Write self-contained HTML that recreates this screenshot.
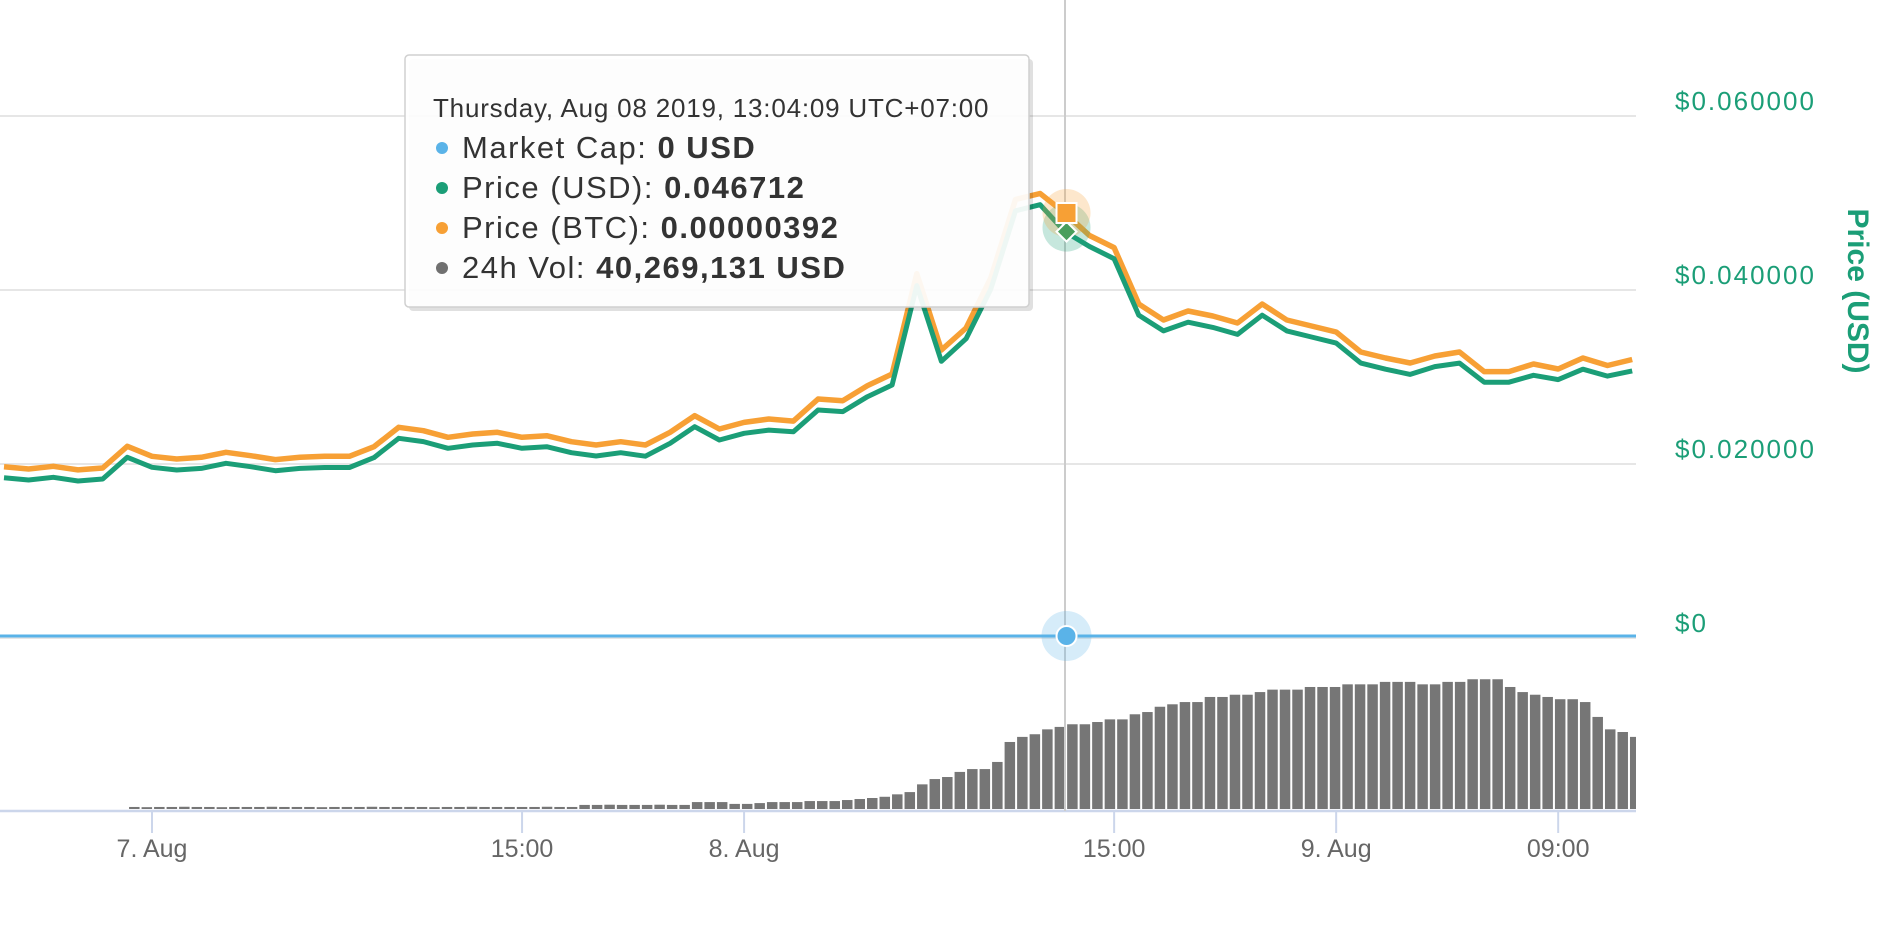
<!DOCTYPE html>
<html><head><meta charset="utf-8"><style>
html,body{margin:0;padding:0;background:#fff;width:1886px;height:926px;overflow:hidden}
svg{display:block}
text{font-family:"Liberation Sans",sans-serif}
</style></head><body>
<svg id="chart" width="1886" height="926" viewBox="0 0 1886 926" xmlns="http://www.w3.org/2000/svg">
<g id="grid"></g>
<g id="vol"></g>
<g id="axes"></g>
<g id="series"></g>
<line x1="1065" y1="0" x2="1065" y2="811" stroke="#cccccc" stroke-width="2"/>
<g id="markers"></g>
<g>
<rect x="409" y="59" width="624" height="252" rx="4" fill="rgba(0,0,0,0.12)"/>
<rect x="405" y="55" width="624" height="252" rx="4" fill="rgba(255,255,255,0.93)" stroke="#d0d0d0" stroke-width="1.5"/>
<text x="433" y="117" font-size="26" letter-spacing="0.8" fill="#333">Thursday, Aug 08 2019, 13:04:09 UTC+07:00</text>
<circle cx="442" cy="148" r="6" fill="#5ab3e8"/>
<text x="462" y="158" font-size="31" letter-spacing="1.5" fill="#333">Market Cap: <tspan font-weight="bold">0 USD</tspan></text>
<circle cx="442" cy="188" r="6" fill="#1b9e77"/>
<text x="462" y="198" font-size="31" letter-spacing="1.5" fill="#333">Price (USD): <tspan font-weight="bold">0.046712</tspan></text>
<circle cx="442" cy="228" r="6" fill="#f7a035"/>
<text x="462" y="238" font-size="31" letter-spacing="1.5" fill="#333">Price (BTC): <tspan font-weight="bold">0.00000392</tspan></text>
<circle cx="442" cy="268" r="6" fill="#707070"/>
<text x="462" y="278" font-size="31" letter-spacing="1.5" fill="#333">24h Vol: <tspan font-weight="bold">40,269,131 USD</tspan></text>
</g>
</svg>
<script>
// hours relative to 7 Aug 00:00, hourly points from -6 to 60
const priceUsd = [0.01843,0.01816,0.01847,0.01805,0.01828,0.02077,0.01962,0.01931,0.01950,0.02008,0.01969,0.01923,0.01950,0.01960,0.01960,0.02073,0.02295,0.02257,0.02180,0.02218,0.02238,0.02180,0.02199,0.02130,0.02092,0.02130,0.02090,0.02238,0.02429,0.02276,0.02353,0.02390,0.02370,0.02621,0.02602,0.02774,0.02908,0.04050,0.03180,0.03440,0.04010,0.04910,0.04980,0.04671,0.04500,0.04360,0.03710,0.03530,0.03630,0.03570,0.03490,0.03710,0.03530,0.03460,0.03390,0.03160,0.03090,0.03030,0.03120,0.03160,0.02940,0.02940,0.03020,0.02970,0.03090,0.03010,0.03070];
const priceBtcSats = [158.0,155.9,158.4,155.0,156.8,176.8,167.6,165.1,166.7,171.3,168.1,164.5,166.7,167.6,167.6,176.4,194.3,191.2,185.1,188.2,189.7,185.1,186.6,181.1,178.0,181.1,178.0,189.7,205.0,192.8,198.9,202.0,200.1,220.4,218.9,232.7,243.5,336.0,265.6,285.9,332.0,404.4,410.0,392.0,371.2,360.1,308.1,293.3,301.6,297.0,290.5,308.1,293.3,287.8,282.2,263.8,258.3,253.6,260.1,263.8,245.7,245.7,252.7,248.1,258.3,251.3,256.9];
const priceStartHour = -6;
// 24h volume in millions USD, ~30 min bars
const volumeM = [1.0,0.9,1.0,1.0,1.1,1.0,1.0,0.9,1.0,1.0,1.0,1.1,1.0,1.0,1.0,0.9,1.0,1.0,1.0,1.1,1.0,1.0,1.0,1.0,0.9,1.0,1.0,1.1,1.0,1.0,1.0,1.0,1.0,1.1,1.0,1.0,
2.0,2.0,2.1,2.0,2.0,2.0,2.1,2.0,2.0,3.4,3.4,3.4,2.5,2.5,2.9,3.4,3.4,3.4,3.9,3.9,3.9,4.4,4.9,5.4,
6.0,7.2,8.3,12.1,14.7,15.7,18.2,19.6,19.6,23.1,32.9,35.4,36.7,39.1,40.3,41.6,41.6,42.7,44.0,44.0,46.5,47.6,50.2,51.4,52.5,52.5,55.0,55.0,56.1,56.1,57.4,58.6,58.6,58.6,59.9,59.9,59.9,61.2,61.2,61.2,62.4,62.4,62.4,61.2,61.2,62.4,62.4,63.7,63.7,63.7,59.9,57.4,56.1,55.0,53.9,53.9,52.5,45.2,39.1,37.8,35.4];
const volStartHour = -0.93;
const volStepHour = 0.507;
const marketCap = [0,0];
const usdTicks = [0,0.02,0.04,0.06];
const usdTickLabels = ["$0","$0.020000","$0.040000","$0.060000"];
const xTickHours = [0,15,24,39,48,57];
const xTickLabels = ["7. Aug","15:00","8. Aug","15:00","9. Aug","09:00"];
const hoverHour = 37.07;
const hoverUsd = 0.046712;
const hoverBtcSats = 392;

const NS="http://www.w3.org/2000/svg";
const plotRight=1636, axisY=811;
function xH(h){return 152+h*24.67;}
function yUsd(v){return 638-v*8700;}
function yBtc(s){return 638-s*1.0842;}
function yVol(m){return 809-m*2.037;}
function mk(tag,attrs,parent){const e=document.createElementNS(NS,tag);for(const k in attrs)e.setAttribute(k,attrs[k]);parent.appendChild(e);return e;}

const grid=document.getElementById('grid');
usdTicks.forEach((t,i)=>{
  const y=yUsd(t);
  const l=mk('line',{x1:0,x2:plotRight,y1:y,y2:y,stroke:'#e6e6e6','stroke-width':2},grid);
  
  
  const tx=mk('text',{x:1675,y:y-6,'font-size':26,fill:'#1b9e77','letter-spacing':'2'},grid);
  
  
  tx.textContent=usdTickLabels[i];
});
const title=mk('text',{x:0,y:0,'font-size':30,'font-weight':'bold',fill:'#1b9e77','text-anchor':'middle',transform:'translate(1848,291) rotate(90)'},grid);


title.textContent='Price (USD)';

const vol=document.getElementById('vol');
volumeM.forEach((m,i)=>{
  const x=xH(volStartHour+i*volStepHour);
  const w=Math.min(10.5,plotRight-x);
  if(w<=0)return;
  const y=yVol(m);
  const r=mk('rect',{x:x,y:y,width:w,height:809-y,fill:'#767676'},vol);
  
  
});

const axes=document.getElementById('axes');
mk('line',{x1:0,x2:plotRight,y1:axisY,y2:axisY,stroke:'#ccd6eb','stroke-width':2.5},axes);
xTickHours.forEach((h,i)=>{
  const x=xH(h);
  mk('line',{x1:x,x2:x,y1:axisY,y2:833,stroke:'#ccd6eb','stroke-width':2},axes);
  const t=mk('text',{x:x,y:857,'font-size':25,fill:'#666','text-anchor':'middle'},axes);
  
  
  t.textContent=xTickLabels[i];
});

const series=document.getElementById('series');
const mc=mk('line',{x1:0,x2:plotRight,y1:yUsd(marketCap[0])-2,y2:yUsd(marketCap[1])-2,stroke:'#5ab3e8','stroke-width':3},series);


function path(vals,yf){return vals.map((v,i)=>(i?'L':'M')+xH(priceStartHour+i).toFixed(1)+' '+yf(v).toFixed(1)).join(' ');}
const pb=mk('path',{d:path(priceBtcSats,yBtc),fill:'none',stroke:'#f7a035','stroke-width':5.5,'stroke-linejoin':'round'},series);


const pu=mk('path',{d:path(priceUsd,yUsd),fill:'none',stroke:'#1b9e77','stroke-width':5,'stroke-linejoin':'round'},series);



const mkr=document.getElementById('markers');
const hx=xH(hoverHour);
mk('circle',{cx:hx,cy:yUsd(hoverUsd)-4,r:24,fill:'rgba(27,158,119,0.25)'},mkr);
mk('circle',{cx:hx,cy:yBtc(hoverBtcSats),r:24,fill:'rgba(247,160,53,0.25)'},mkr);
const yd=yUsd(hoverUsd);
const dm=mk('path',{d:`M${hx} ${yd-10} L${hx+10} ${yd} L${hx} ${yd+10} L${hx-10} ${yd} Z`,fill:'#4a9e5c',stroke:'#fff','stroke-width':2},mkr);


const yb=yBtc(hoverBtcSats);
const sq=mk('rect',{x:hx-10,y:yb-10,width:20,height:20,fill:'#f7a035',stroke:'#fff','stroke-width':2},mkr);


mk('circle',{cx:hx,cy:yUsd(marketCap[0])-2,r:25,fill:'rgba(90,179,232,0.25)'},mkr);
const bc=mk('circle',{cx:hx,cy:yUsd(marketCap[0])-2,r:10,fill:'#5ab3e8',stroke:'#fff','stroke-width':2},mkr);


</script>
</body></html>
